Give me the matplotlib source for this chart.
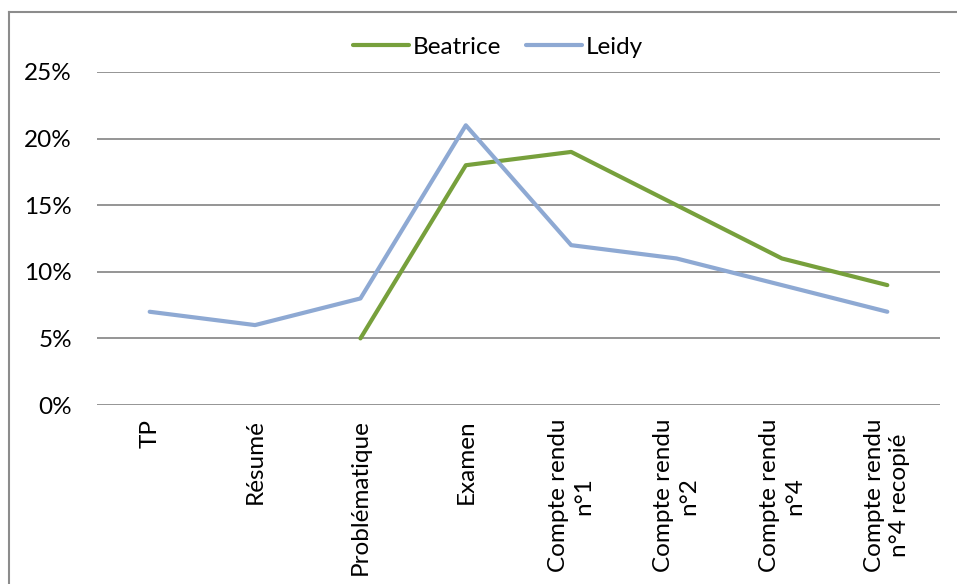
import matplotlib
matplotlib.use('Agg')
import matplotlib.pyplot as plt
from matplotlib.lines import Line2D
from matplotlib.ticker import PercentFormatter
import numpy as np

# ── données ───────────────────────────────────────────────────
categories = ['TP', 'Résumé', 'Problématique', 'Examen',
              'Compte rendu\nn°1', 'Compte rendu\nn°2',
              'Compte rendu\nn°4', 'Compte rendu\nn°4 recopié']
beatrice = [np.nan, np.nan, 0.05, 0.18, 0.19, 0.15, 0.11, 0.09]
leidy    = [0.07, 0.06, 0.08, 0.21, 0.12, 0.11, 0.09, 0.07]
yticks   = [0, 0.05, 0.10, 0.15, 0.20, 0.25]
# ─────────────────────────────────────────────────────────────

VERT  = '#77A03C'
BLEU  = '#8EA9D3'
GRILLE = '#8C8C8C'
TAILLE = 17.5

plt.rcParams['font.family'] = ['Lato', 'DejaVu Sans']

W, H = 957, 584
fig = plt.figure(figsize=(W / 100, H / 100), dpi=100)
ax = fig.add_axes([97 / W, 1 - 405 / H, (940 - 97) / W, (405 - 72) / H])

x = np.arange(len(categories))
ax.plot(x, beatrice, color=VERT, lw=3, label='Beatrice', solid_capstyle='round')
ax.plot(x, leidy, color=BLEU, lw=3, label='Leidy', solid_capstyle='round')

ax.set_xlim(-0.5, len(categories) - 0.5)
ax.set_ylim(0, 0.25)
ax.set_yticks(yticks)
ax.yaxis.set_major_formatter(PercentFormatter(1.0, decimals=0))
ax.grid(axis='y', color=GRILLE, lw=1.3)
ax.set_axisbelow(True)
for s in ax.spines.values():
    s.set_visible(False)
ax.tick_params(axis='y', length=0, pad=18, labelsize=TAILLE)
ax.tick_params(axis='x', length=0)
ax.set_xticks(x)
ax.set_xticklabels([])

# étiquettes verticales, lignes centrées sous chaque catégorie
for xi, lab in zip(x, categories):
    ax.annotate(lab, xy=(xi, 0), xycoords='data', xytext=(0, -10),
                textcoords='offset points', rotation=90, ha='center', va='top',
                multialignment='center', fontsize=TAILLE, linespacing=1.25)

ax.legend(loc='center', bbox_to_anchor=(498 / W, 1 - 47 / H),
          bbox_transform=fig.transFigure, ncol=2, frameon=False,
          fontsize=TAILLE, handlelength=2.3, handletextpad=0.16, columnspacing=1.0)

# cadre du graphique
fig.add_artist(Line2D([9 / W, 1], [1 - 12 / H] * 2, color=GRILLE, lw=1.5))
fig.add_artist(Line2D([9 / W] * 2, [0, 1 - 12 / H], color=GRILLE, lw=1.5))

fig.savefig('out.png', dpi=100)
